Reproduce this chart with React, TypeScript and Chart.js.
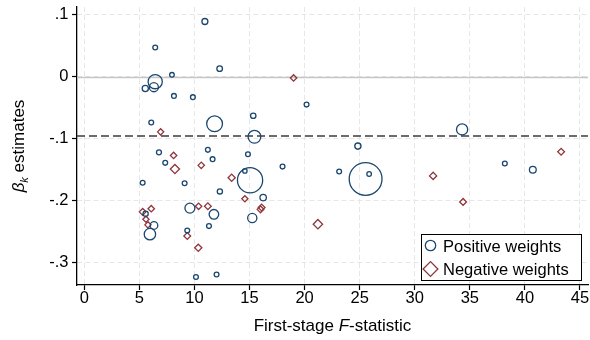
import React, { useEffect, useRef } from "react";
import { Chart, registerables } from "chart.js";

Chart.register(...registerables);

// ---- data ----
const posF = [
  10.95, 6.44, 12.29, 7.96, 6.44, 5.54, 6.32, 8.14, 9.86, 6.08,
  11.83, 15.34, 15.45, 6.78, 11.22, 14.86, 7.35, 11.65, 5.3, 9.11,
  12.31, 15.05, 14.58, 9.59, 11.77, 15.25, 11.32, 9.35, 6.33, 5.96,
  5.57, 10.14, 12.01, 16.24, 18.0, 23.14, 24.84, 25.54, 25.86, 20.18,
  34.3, 38.18, 40.72,
];
const posBeta = [
  0.089, 0.047, 0.013, 0.003, -0.008, -0.019, -0.017, -0.031, -0.033, -0.074,
  -0.076, -0.063, -0.097, -0.122, -0.118, -0.125, -0.139, -0.133, -0.171, -0.172,
  -0.185, -0.167, -0.152, -0.212, -0.222, -0.228, -0.241, -0.248, -0.24, -0.254,
  -0.221, -0.323, -0.319, -0.195, -0.145, -0.153, -0.112, -0.165, -0.157, -0.045,
  -0.085, -0.14, -0.15,
];
const posWeight = [
  1.56, 1.0, 1.36, 0.92, 8.75, 1.67, 3.52, 1.0, 1.0, 1.0,
  10.8, 1.27, 7.1, 1.08, 1.0, 1.0, 1.0, 1.0, 1.0, 1.0,
  1.17, 27.6, 0.84, 4.34, 4.0, 3.67, 1.0, 1.0, 2.5, 5.64,
  1.17, 1.0, 1.0, 1.78, 1.0, 1.0, 1.67, 46.7, 0.92, 1.0,
  5.44, 1.0, 2.0,
];
const negF = [
  6.93, 8.11, 10.62, 8.23, 13.38, 14.58, 10.38, 11.22, 5.3, 6.08,
  5.6, 5.78, 9.35, 10.35, 16.0, 16.1, 19.0, 21.21, 31.67, 34.39,
  43.29,
];
const negBeta = [
  -0.089, -0.127, -0.143, -0.149, -0.163, -0.197, -0.209, -0.209, -0.218, -0.213,
  -0.23, -0.239, -0.257, -0.276, -0.214, -0.211, -0.002, -0.238, -0.16, -0.202,
  -0.121,
];
const negWeight = [
  1.67, 1.78, 1.78, 3.67, 2.25, 1.67, 1.78, 2.0, 2.0, 1.78,
  1.67, 1.67, 2.0, 2.25, 2.0, 2.0, 1.78, 3.84, 2.25, 2.0,
  2.0,
];
const meanBeta = -0.0957;
const xTicks = [0, 5, 10, 15, 20, 25, 30, 35, 40, 45];
const yTicks = [0.1, 0, -0.1, -0.2, -0.3];
const yTickLabels = [".1", "0", "-.1", "-.2", "-.3"];
const legendLabels = ["Positive weights", "Negative weights"];

const BLUE = "#1a476f";
const RED = "#90353b";
const FONT = "'Liberation Sans', Arial, sans-serif";
const markerR = (w: number) => 2.4 * Math.sqrt(w);

const decor = {
  id: "decor",
  beforeDatasetsDraw(chart: any) {
    const { ctx, chartArea: a, scales } = chart;
    const y = scales.y;
    ctx.save();
    const y0 = Math.round(y.getPixelForValue(0)) + 0.5;
    ctx.strokeStyle = "#c6c6c6";
    ctx.lineWidth = 1.5;
    ctx.beginPath();
    ctx.moveTo(a.left, y0);
    ctx.lineTo(a.right, y0);
    ctx.stroke();
    const ym = y.getPixelForValue(meanBeta);
    ctx.strokeStyle = "#3c3c3c";
    ctx.lineWidth = 1.5;
    ctx.setLineDash([8, 4]);
    ctx.beginPath();
    ctx.moveTo(a.left, ym);
    ctx.lineTo(a.right, ym);
    ctx.stroke();
    ctx.restore();
  },
  afterDraw(chart: any) {
    const { ctx, chartArea: a } = chart;
    ctx.save();
    ctx.fillStyle = "#000";
    ctx.textBaseline = "alphabetic";
    ctx.textAlign = "left";
    // x title
    const parts: [string, string][] = [
      ["First-stage ", `17px ${FONT}`],
      ["F", `italic 17px ${FONT}`],
      ["-statistic", `17px ${FONT}`],
    ];
    let total = 0;
    for (const [t, f] of parts) {
      ctx.font = f;
      total += ctx.measureText(t).width;
    }
    let cx = (a.left + a.right) / 2 - total / 2;
    for (const [t, f] of parts) {
      ctx.font = f;
      ctx.fillText(t, cx, 331);
      cx += ctx.measureText(t).width;
    }
    // y title
    ctx.save();
    ctx.translate(24, (a.top + a.bottom) / 2);
    ctx.rotate(-Math.PI / 2);
    const yp: [string, string, number][] = [
      ["β", `italic 17px ${FONT}`, 0],
      ["k", `italic 11px ${FONT}`, 4],
      [" estimates", `17px ${FONT}`, 0],
    ];
    let tw = 0;
    for (const [t, f] of yp) {
      ctx.font = f;
      tw += ctx.measureText(t).width;
    }
    let px = -tw / 2;
    for (const [t, f, dy] of yp) {
      ctx.font = f;
      ctx.fillText(t, px, dy);
      px += ctx.measureText(t).width;
    }
    ctx.restore();
    // legend
    ctx.fillStyle = "#fff";
    ctx.fillRect(421.5, 234.5, 160, 46);
    ctx.strokeStyle = "#000";
    ctx.lineWidth = 1;
    ctx.strokeRect(421.5, 234.5, 160, 46);
    ctx.lineWidth = 1.3;
    ctx.strokeStyle = BLUE;
    ctx.beginPath();
    ctx.arc(430.5, 245.5, 5.2, 0, Math.PI * 2);
    ctx.stroke();
    ctx.strokeStyle = RED;
    ctx.beginPath();
    const r = 7.4;
    ctx.moveTo(430.5 - r, 269);
    ctx.lineTo(430.5, 269 - r);
    ctx.lineTo(430.5 + r, 269);
    ctx.lineTo(430.5, 269 + r);
    ctx.closePath();
    ctx.stroke();
    ctx.fillStyle = "#000";
    ctx.font = `16.5px ${FONT}`;
    ctx.fillText(legendLabels[0], 443, 251.5);
    ctx.fillText(legendLabels[1], 443, 274.7);
    ctx.restore();
  },
};

export default function App() {
  const ref = useRef<HTMLCanvasElement | null>(null);
  useEffect(() => {
    if (!ref.current) return;
    const tickFont = { family: FONT, size: 16.5, lineHeight: 1 };
    const chart = new Chart(ref.current, {
      type: "scatter",
      data: {
        datasets: [
          {
            label: legendLabels[0],
            data: posF.map((f, i) => ({ x: f, y: posBeta[i] })),
            pointStyle: "circle",
            borderColor: BLUE,
            backgroundColor: "rgba(0,0,0,0)",
            borderWidth: 1.3,
            pointRadius: (c: any) => markerR(posWeight[c.dataIndex] ?? 1),
          },
          {
            label: legendLabels[1],
            data: negF.map((f, i) => ({ x: f, y: negBeta[i] })),
            pointStyle: "rectRot",
            borderColor: RED,
            backgroundColor: "rgba(0,0,0,0)",
            borderWidth: 1.3,
            pointRadius: (c: any) => markerR(negWeight[c.dataIndex] ?? 1),
          },
        ],
      },
      options: {
        responsive: false,
        animation: false,
        devicePixelRatio: 1,
        events: [],
        layout: { autoPadding: false, padding: { top: 7, right: 2, left: 0, bottom: 0 } },
        plugins: { legend: { display: false }, tooltip: { enabled: false } },
        scales: {
          x: {
            type: "linear",
            min: -0.66,
            max: 45.73,
            afterBuildTicks: (s: any) => {
              s.ticks = xTicks.map((v) => ({ value: v }));
            },
            afterFit: (s: any) => {
              s.height = 55;
              s.paddingLeft = 0;
              s.paddingRight = 0;
            },
            ticks: {
              autoSkip: false,
              maxRotation: 0,
              padding: 0,
              color: "#000",
              font: tickFont,
              callback: (v: any) => String(v),
            },
            grid: {
              color: "#e6e6e6",
              lineWidth: 1,
              tickColor: "#000",
              tickLength: 5,
              tickWidth: 1.2,
            },
            border: { display: true, color: "#000", width: 1.3, dash: [5, 3] },
          },
          y: {
            type: "linear",
            min: -0.336,
            max: 0.1124,
            afterBuildTicks: (s: any) => {
              s.ticks = yTicks.map((v) => ({ value: v }));
            },
            afterFit: (s: any) => {
              s.width = 77;
              s.paddingTop = 0;
              s.paddingBottom = 0;
            },
            ticks: {
              autoSkip: false,
              padding: 3.5,
              color: "#000",
              font: tickFont,
              callback: (_v: any, i: number) => yTickLabels[i],
            },
            grid: {
              color: "#e6e6e6",
              lineWidth: 1,
              tickColor: "#000",
              tickLength: 5,
              tickWidth: 1.2,
            },
            border: { display: true, color: "#000", width: 1.3, dash: [5, 3] },
          },
        },
      },
      plugins: [decor],
    } as any);
    return () => chart.destroy();
  }, []);
  return (
    <div style={{ position: "fixed", left: 0, top: 0, width: 590, height: 340, background: "#fff" }}>
      <canvas ref={ref} width={590} height={340} style={{ display: "block", width: 590, height: 340 }} />
    </div>
  );
}
